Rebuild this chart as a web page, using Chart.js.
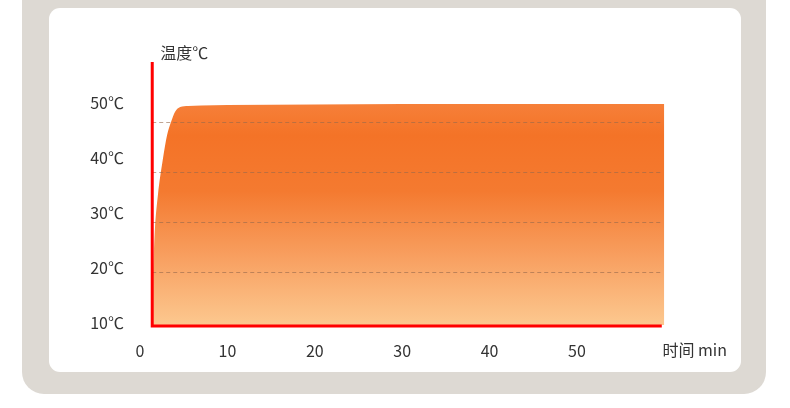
<!DOCTYPE html>
<html>
<head>
<meta charset="utf-8">
<script src="https://cdn.jsdelivr.net/npm/chart.js@4/dist/chart.umd.min.js"></script>
<style>
	html, body { margin: 0; padding: 0; background: #fff; width: 790px; height: 408px; overflow: hidden; }
	.frame { position: absolute; left: 22px; top: -30px; width: 744px; height: 424px; background: #ddd9d3; border-radius: 22px; }
	.panel { position: absolute; left: 49px; top: 8px; width: 692px; height: 364px; background: #fff; border-radius: 11px; }
	#chart { position: absolute; left: 0; top: 0; }
</style>
</head>
<body>
<div class="frame"></div>
<div class="panel"></div>
<canvas id="chart" width="790" height="408"></canvas>
<script>
// heating curve, minutes vs degrees
const minutes = [1.5, 1.7, 2.05, 2.6, 3.1, 3.55, 4.0, 4.6, 5.5, 7, 10, 20, 30, 40, 50, 60]
const temps = [20.4, 28.4, 35.4, 42.4, 47.4, 50, 52, 53, 53.2, 53.3, 53.4, 53.5, 53.6, 53.6, 53.6, 53.6]
const xTicks = [0, 10, 20, 30, 40, 50]
const yTicks = [10, 20, 30, 40, 50]
const gridValues = [20, 30, 40, 50]
const axisStart = 1.4
const axisEnd = 59.7

const font = { family: '"Noto Sans CJK SC", "Noto Sans", sans-serif', size: 16 }

const axesPlugin = {
	id: 'axes',
	afterDatasetsDraw(chart) {
		const ctx = chart.ctx
		const x = chart.scales.x
		const y = chart.scales.y
		const area = chart.chartArea
		const x0 = x.getPixelForValue(axisStart)
		const x1 = x.getPixelForValue(axisEnd)
		ctx.save()
		// dashed grid
		ctx.strokeStyle = 'rgba(150,105,75,0.6)'
		ctx.lineWidth = 1
		ctx.setLineDash([4, 3])
		gridValues.forEach(v => {
			const py = Math.round(y.getPixelForValue(v)) + 0.5
			ctx.beginPath()
			ctx.moveTo(x0, py)
			ctx.lineTo(x1, py)
			ctx.stroke()
		})
		ctx.setLineDash([])
		// red axes
		ctx.strokeStyle = '#ff0000'
		ctx.lineWidth = 3
		ctx.beginPath()
		ctx.moveTo(x0, area.top)
		ctx.lineTo(x0, area.bottom + 1)
		ctx.lineTo(x1, area.bottom + 1)
		ctx.stroke()
		// titles
		ctx.fillStyle = '#333'
		ctx.font = '16px ' + font.family
		ctx.textBaseline = 'middle'
		ctx.textAlign = 'left'
		ctx.fillText('温度℃', x0 + 8, area.top - 9)
		ctx.fillText('时间 min', area.right - 2, area.bottom + 25)
		ctx.restore()
	}
}

const chartCtx = document.getElementById('chart').getContext('2d')
new Chart(chartCtx, {
	type: 'line',
	data: {
		datasets: [{
			data: minutes.map((m, i) => ({ x: m, y: temps[i] })),
			borderWidth: 0,
			pointRadius: 0,
			cubicInterpolationMode: 'monotone',
			fill: 'start',
			backgroundColor: (c) => {
				const area = c.chart.chartArea
				if (!area) return '#f47328'
				const g = c.chart.ctx.createLinearGradient(0, area.top + 40, 0, area.bottom)
				g.addColorStop(0, '#f6803a')
				g.addColorStop(0.15, '#f47327')
				g.addColorStop(0.4, '#f47a30')
				g.addColorStop(0.7, '#f8a061')
				g.addColorStop(1, '#fcc88f')
				return g
			}
		}]
	},
	options: {
		responsive: false,
		animation: false,
		layout: { padding: { left: 80, right: 125.6, top: 62, bottom: 43 } },
		plugins: { legend: { display: false }, tooltip: { enabled: false } },
		scales: {
			x: {
				type: 'linear',
				min: 0,
				max: 60,
				grid: { display: false, drawTicks: false },
				border: { display: false },
				afterBuildTicks: (s) => { s.ticks = xTicks.map(v => ({ value: v })) },
				afterFit: (s) => { s.height = 40 },
				ticks: { color: '#333', font: font, padding: 16, maxRotation: 0 }
			},
			y: {
				display: false,
				min: 9.4,
				max: 62
			},
			yLabels: {
				position: 'left',
				min: 9.636,
				max: 57.45,
				grid: { display: false, drawTicks: false },
				border: { display: false },
				afterBuildTicks: (s) => { s.ticks = yTicks.map(v => ({ value: v })) },
				afterFit: (s) => { s.width = 60 },
				ticks: { color: '#333', font: font, padding: 16, callback: v => v + '℃' }
			}
		}
	},
	plugins: [axesPlugin]
})
</script>
</body>
</html>
